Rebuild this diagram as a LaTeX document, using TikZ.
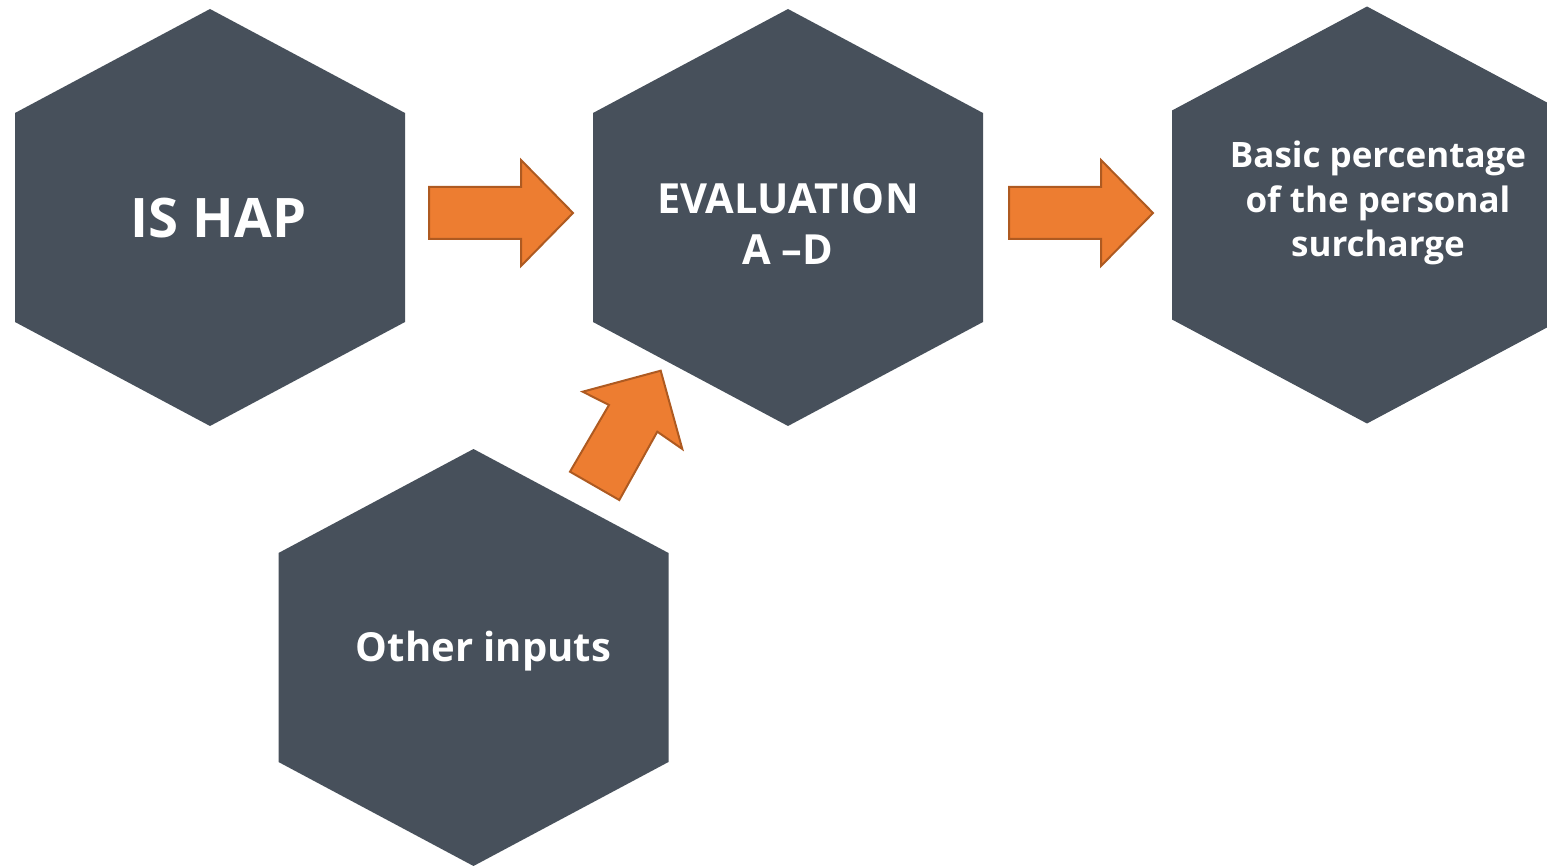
\documentclass[tikz,border=0pt]{standalone}
\usepackage{fontspec}
\setmainfont{Open Sans}
\definecolor{hexgrey}{RGB}{71,80,91}
\definecolor{arroworange}{RGB}{237,125,49}
\definecolor{arrowedge}{RGB}{174,90,33}
\begin{document}
\begin{tikzpicture}[x=1pt,y=-1pt,
	hexfill/.style={fill=hexgrey},
	blockarrow/.style={fill=arroworange,draw=arrowedge,line width=2pt,line join=miter},
	hextext/.style={text=white,font=\bfseries,align=center,inner sep=0pt}]
			\newcommand{\hexat}[1]{
				\fill[hexfill] (#1) ++(0,-208) -- ++(195,104) -- ++(0,209) -- ++(-195,104) -- ++(-195,-104) -- ++(0,-209) -- cycle;
			}
			%Page frame, the right hexagon runs over the edge
			\useasboundingbox (0,0) rectangle (1547,866);
			\clip (0,0) rectangle (1547,866);
			%Centres of the hexagons
			\foreach \n/\cx/\cy in {hap/210/217,eval/788/217,base/1367/214.5,other/473.5/657} {
				\coordinate (\n) at (\cx,\cy);
			}
			%Hexagons
			\hexat{hap}
			\hexat{eval}
			\hexat{base}
			\hexat{other}
			%Texts in the hexagons
			\node [hextext,font=\bfseries\fontsize{54.5}{60}\selectfont] (hapText) at (218.5,218) {IS HAP};
			\node [hextext,font=\bfseries\fontsize{41.5}{51}\selectfont] (evalText) at (788,224) {EVALUATION\\A --D};
			\node [hextext,font=\bfseries\fontsize{35}{44.5}\selectfont] (baseText) at (1378,203) {Basic percentage\\of the personal\\surcharge};
			\node [hextext,font=\bfseries\fontsize{40}{50}\selectfont] (otherText) at (483.5,651) {Other inputs};
			%Arrow IS HAP to evaluation
			\coordinate (a1) at (429,187);
			\draw[blockarrow] (a1) -- ++(92,0) -- ++(0,-27) -- ++(52,53) -- ++(-52,53) -- ++(0,-27) -- ++(-92,0) -- cycle;
			%Arrow evaluation to basic percentage
			\coordinate (a2) at (1009,187);
			\draw[blockarrow] (a2) -- ++(92,0) -- ++(0,-27) -- ++(52,53) -- ++(-52,53) -- ++(0,-27) -- ++(-92,0) -- cycle;
			%Arrow other inputs up to evaluation
			\coordinate (a3tip) at (660.7,370.7);
			\coordinate (a3headR) at (682.3,449);
			\coordinate (a3inR) at (657.3,431.7);
			\coordinate (a3tailR) at (619.3,500);
			\coordinate (a3tailL) at (570,471.7);
			\coordinate (a3inL) at (609,405);
			\coordinate (a3headL) at (582.7,391.7);
			\draw[blockarrow] (a3tip) -- (a3headR) -- (a3inR) -- (a3tailR) -- (a3tailL) -- (a3inL) -- (a3headL) -- cycle;
			\end{tikzpicture}
\end{document}
